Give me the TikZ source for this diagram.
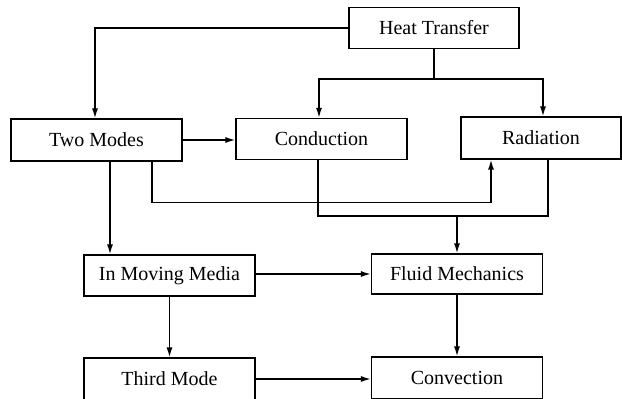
\documentclass[tikz,border=0pt]{standalone}
\usepackage{fontspec}
\setmainfont{Liberation Serif}
\usetikzlibrary{arrows.meta,calc}
\begin{document}
\begin{tikzpicture}[x=1pt,y=-1pt,
  box/.style={draw,line width=1.1pt,rectangle,minimum width=171pt,minimum height=41pt,inner sep=0pt,font=\fontsize{20}{24}\selectfont},
  conn/.style={line width=1.6pt},
  arr/.style={conn,-{Latex[length=10pt,width=6pt]}}]
\path[use as bounding box] (0,0) rectangle (622,399);
\clip (0,0) rectangle (622,399);
\node[box,minimum width=170pt] (HT) at (434,28) {Heat Transfer};
\node[box,minimum height=42pt] (TM) at (96.5,140) {Two Modes};
\node[box] (CD) at (321.5,139) {Conduction};
\node[box,minimum width=160pt,minimum height=42pt] (RD) at (541,138) {Radiation};
\node[box] (IMM) at (169.5,275.5) {In Moving Media};
\node[box,minimum height=40pt] (FM) at (457,274) {Fluid Mechanics};
\node[box,minimum height=42pt] (TD) at (169.5,379) {Third Mode};
\node[box,minimum height=42pt] (CV) at (457,378) {Convection};
\coordinate (j1) at (434,79);
\coordinate (j2) at (457,216);
% Heat Transfer connections
\draw[arr] (HT.west) -| ([xshift=-1.5pt]TM.north);
\draw[conn] (HT.south) -- (j1);
\draw[arr] (j1) -| ([xshift=-2.5pt]CD.north);
\draw[arr] (j1) -| ([xshift=2pt]RD.north);
% Two Modes
\draw[arr] (TM.east) -- (TM.east -| CD.west);
\draw[arr] ([xshift=13.5pt]TM.south) -- ([xshift=13.5pt]TM.south |- IMM.north);
\draw[arr] ([xshift=55.5pt]TM.south) -- ++(0,41) -| ([xshift=-50pt]RD.south);
% Conduction and Radiation to Fluid Mechanics
\draw[conn] ([xshift=-3.5pt]CD.south) |- (j2) -| ([xshift=7pt]RD.south);
\draw[arr] (j2) -- (FM.north);
% lower rows
\draw[arr] ([yshift=1.5pt]IMM.east) -- ([yshift=1.5pt]IMM.east -| FM.west);
\draw[arr] (IMM.south) -- (TD.north);
\draw[arr] (FM.south) -- (CV.north);
\draw[arr] (TD.east) -- (TD.east -| CV.west);
\end{tikzpicture}
\end{document}
